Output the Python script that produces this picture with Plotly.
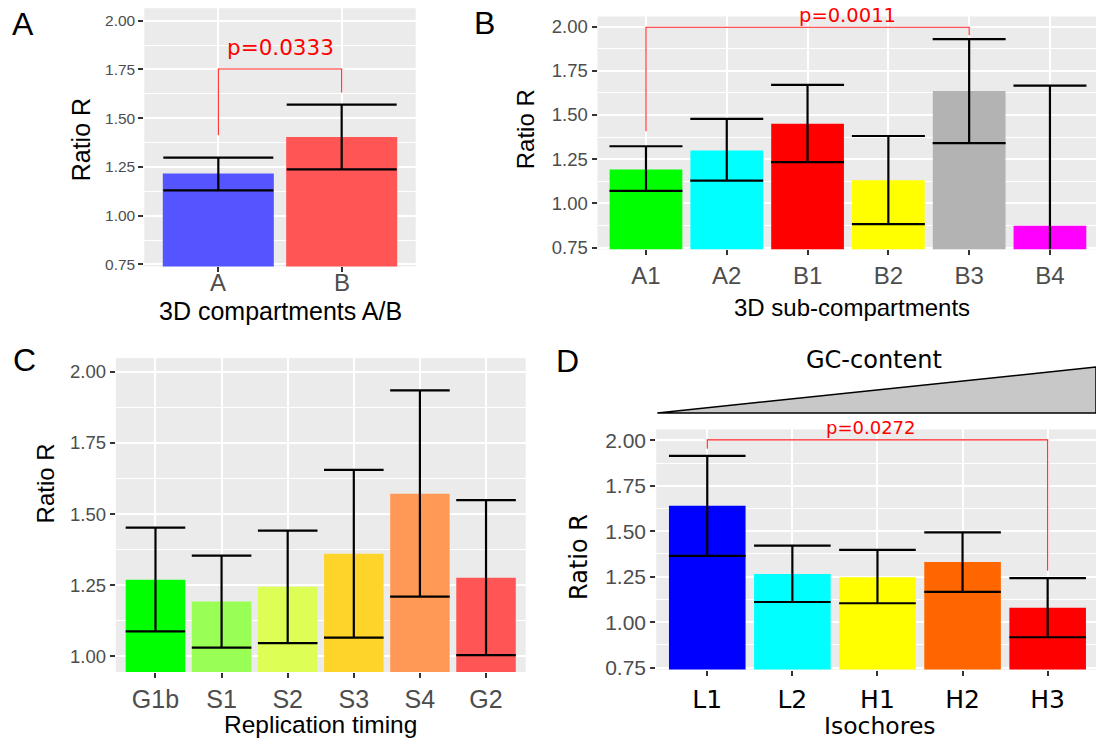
import plotly.graph_objects as go

# ---------------- data ----------------
a_cats = ["A", "B"]
a_mean = [1.216, 1.403]
a_low = [1.130, 1.238]
a_high = [1.298, 1.570]
a_colors = ["#5555FF", "#FF5555"]

b_cats = ["A1", "A2", "B1", "B2", "B3", "B4"]
b_mean = [1.192, 1.299, 1.450, 1.131, 1.636, 0.873]
b_low = [1.071, 1.129, 1.233, 0.882, 1.341, 0.080]
b_high = [1.323, 1.478, 1.670, 1.381, 1.929, 1.666]
b_colors = ["#00FF00", "#00FFFF", "#FF0000", "#FFFF00", "#B3B3B3", "#FF00FF"]

c_cats = ["G1b", "S1", "S2", "S3", "S4", "G2"]
c_mean = [1.269, 1.193, 1.245, 1.361, 1.571, 1.276]
c_low = [1.088, 1.031, 1.047, 1.066, 1.210, 1.005]
c_high = [1.452, 1.354, 1.442, 1.655, 1.934, 1.549]
c_colors = ["#00FF00", "#99FF55", "#DDFF55", "#FFD42A", "#FF9955", "#FF5555"]

d_cats = ["L1", "L2", "H1", "H2", "H3"]
d_mean = [1.641, 1.265, 1.247, 1.331, 1.080]
d_low = [1.365, 1.111, 1.104, 1.167, 0.917]
d_high = [1.915, 1.421, 1.398, 1.494, 1.242]
d_colors = ["#0000FF", "#00FFFF", "#FFFF00", "#FF6600", "#FF0000"]

# significance brackets: (left cat, right cat), y of [left foot, top, top, right foot], label
a_sig_pair = ["A", "B"]
a_sig_y = [1.413, 1.752, 1.752, 1.632]
a_sig_label = "p=0.0333"
b_sig_pair = ["A1", "B3"]
b_sig_y = [1.408, 1.996, 1.996, 1.951]
b_sig_label = "p=0.0011"
d_sig_pair = ["L1", "H3"]
d_sig_y = [1.954, 2.003, 2.003, 1.283]
d_sig_label = "p=0.0272"

y_ticks = [0.75, 1.00, 1.25, 1.50, 1.75, 2.00]

# ---------------- layout helpers ----------------
W, H = 1096, 746
ARIAL = "Liberation Sans, Arial, sans-serif"
DEJAVU = "DejaVu Sans, sans-serif"
GRAY = "#4D4D4D"


def fx(p):
    return p / W


def fy(p):
    return 1 - p / H


fig = go.Figure()

panels = [
    # cats, mean, low, high, colors, axis suffix, cap half-width px
    (a_cats, a_mean, a_low, a_high, a_colors, "", 55),
    (b_cats, b_mean, b_low, b_high, b_colors, "2", 36.5),
    (c_cats, c_mean, c_low, c_high, c_colors, "3", 29.8),
    (d_cats, d_mean, d_low, d_high, d_colors, "4", 38.3),
]

for cats, mean, low, high, cols, sfx, capw in panels:
    fig.add_trace(go.Bar(
        x=cats, y=mean, width=0.9,
        marker=dict(color=cols, line=dict(width=0)),
        error_y=dict(type="data", symmetric=False,
                     array=[h - m for h, m in zip(high, mean)],
                     arrayminus=[m - l for m, l in zip(mean, low)],
                     color="black", thickness=2.2, width=capw),
        xaxis="x" + sfx, yaxis="y" + sfx, showlegend=False,
    ))

for pair, ys, sfx in [(a_sig_pair, a_sig_y, ""), (b_sig_pair, b_sig_y, "2"), (d_sig_pair, d_sig_y, "4")]:
    fig.add_trace(go.Scatter(
        x=[pair[0], pair[0], pair[1], pair[1]], y=ys, mode="lines",
        line=dict(color="#FF2020", width=1.1),
        xaxis="x" + sfx, yaxis="y" + sfx, showlegend=False, hoverinfo="skip",
    ))


def xax(domain, rng, size, color=GRAY, family=ARIAL, standoff=0, labels=True):
    return dict(domain=domain, range=rng, type="category", showgrid=True,
                gridcolor="white", gridwidth=1.8, ticks="outside", ticklen=5,
                tickwidth=1.5, tickcolor="#333333", showline=False, zeroline=False,
                ticklabelstandoff=standoff, showticklabels=labels,
                tickfont=dict(family=family, size=size, color=color))


def yax(domain, rng, size, anchor):
    return dict(domain=domain, range=rng, tickvals=y_ticks, tickformat=".2f",
                showgrid=True, gridcolor="white", gridwidth=1.8,
                minor=dict(dtick=0.125, tick0=0.75, showgrid=True,
                           gridcolor="white", gridwidth=0.9, ticks=""),
                ticks="outside", ticklen=5, tickwidth=1.5, tickcolor="#333333",
                showline=False, zeroline=False, anchor=anchor,
                tickfont=dict(family=ARIAL, size=size, color=GRAY))


y_doms = {"": [fy(269), fy(7.3)], "2": [fy(251.7), fy(15.7)],
          "3": [fy(680), fy(362)], "4": [fy(677.7), fy(434.3)]}
y_rngs = {"": [0.74, 2.064], "2": [0.74, 2.057], "3": [0.946, 2.047], "4": [0.739, 2.06]}

fig.update_layout(
    width=W, height=H, margin=dict(l=0, r=0, t=0, b=0),
    paper_bgcolor="white", plot_bgcolor="#EBEBEB",
    bargap=0.1, showlegend=False,
    xaxis=dict(xax([fx(144.3), fx(415.7)], [-0.6, 1.6], 24, labels=False), anchor="y"),
    yaxis=yax(y_doms[""], y_rngs[""], 15.5, "x"),
    xaxis2=dict(xax([fx(597.5), 1.0], [-0.6, 5.57], 24, standoff=0), anchor="y2"),
    yaxis2=yax(y_doms["2"], y_rngs["2"], 18.5, "x2"),
    xaxis3=dict(xax([fx(115.8), fx(525.7)], [-0.6, 5.6], 25, standoff=0), anchor="y3"),
    yaxis3=yax(y_doms["3"], y_rngs["3"], 18.5, "x3"),
    xaxis4=dict(xax([fx(656.2), 1.0], [-0.6, 4.568], 25, color="black", family=DEJAVU, standoff=2), anchor="y4"),
    yaxis4=yax(y_doms["4"], y_rngs["4"], 21, "x4"),
)

ann = []


def txt(x, y, text, size, family=ARIAL, color="black", angle=0):
    ann.append(dict(x=fx(x), y=fy(y), xref="paper", yref="paper", text=text,
                    showarrow=False, xanchor="center", yanchor="middle",
                    textangle=angle, font=dict(family=family, size=size, color=color)))


# panel A category labels (placed just under the axis)
for c in a_cats:
    ann.append(dict(x=c, y=fy(285), xref="x", yref="paper", text=c, showarrow=False,
                    xanchor="center", yanchor="middle",
                    font=dict(family=ARIAL, size=24, color=GRAY)))

# panel letters
txt(23, 23.5, "A", 32)
txt(484, 22, "B", 32)
txt(24, 363.5, "C", 32)
txt(567.5, 365, "D", 32)
# y titles
txt(80.7, 140.5, "Ratio R", 25, angle=-90)
txt(525, 130, "Ratio R", 24, angle=-90)
txt(45, 489, "Ratio R", 24, angle=-90)
txt(579.5, 564, "Ratio R", 24, family=DEJAVU, angle=-90)
# x titles
txt(280.5, 314.5, "3D compartments A/B", 25)
txt(852, 311, "3D sub-compartments", 24)
txt(320.7, 733.5, "Replication timing", 24.5)
txt(880, 734.6, "Isochores", 23.5, family=DEJAVU)
txt(874, 363.6, "GC-content", 24, family=DEJAVU)


def data_to_paper(v, sfx):
    r0, r1 = y_rngs[sfx]
    d0, d1 = y_doms[sfx]
    return d0 + (v - r0) / (r1 - r0) * (d1 - d0)


# p-value labels (x in category units, y converted from data value)
for sx, xpos, ypos, lab, size in [("", 0.5, 1.865, a_sig_label, 21.5),
                                   ("2", 2.5, 2.061, b_sig_label, 19.5),
                                   ("4", 1.92, 2.072, d_sig_label, 18)]:
    ann.append(dict(x=xpos, y=data_to_paper(ypos, sx), xref="x" + sx, yref="paper", text=lab,
                    showarrow=False, xanchor="center", yanchor="middle",
                    font=dict(family=DEJAVU, size=size, color="#FF0000")))

fig.update_layout(annotations=ann)

# GC-content wedge above panel D
fig.add_shape(type="path",
              path=f"M {fx(657.3)},{fy(417.5)} L 1,{fy(371)} L 1,{fy(417.5)} Z",
              xref="paper", yref="paper", fillcolor="#C8C8C8",
              line=dict(color="black", width=1.5), layer="above")

fig.write_html("out.html", config={"displayModeBar": False},
               post_script="document.body.style.margin='0';")
